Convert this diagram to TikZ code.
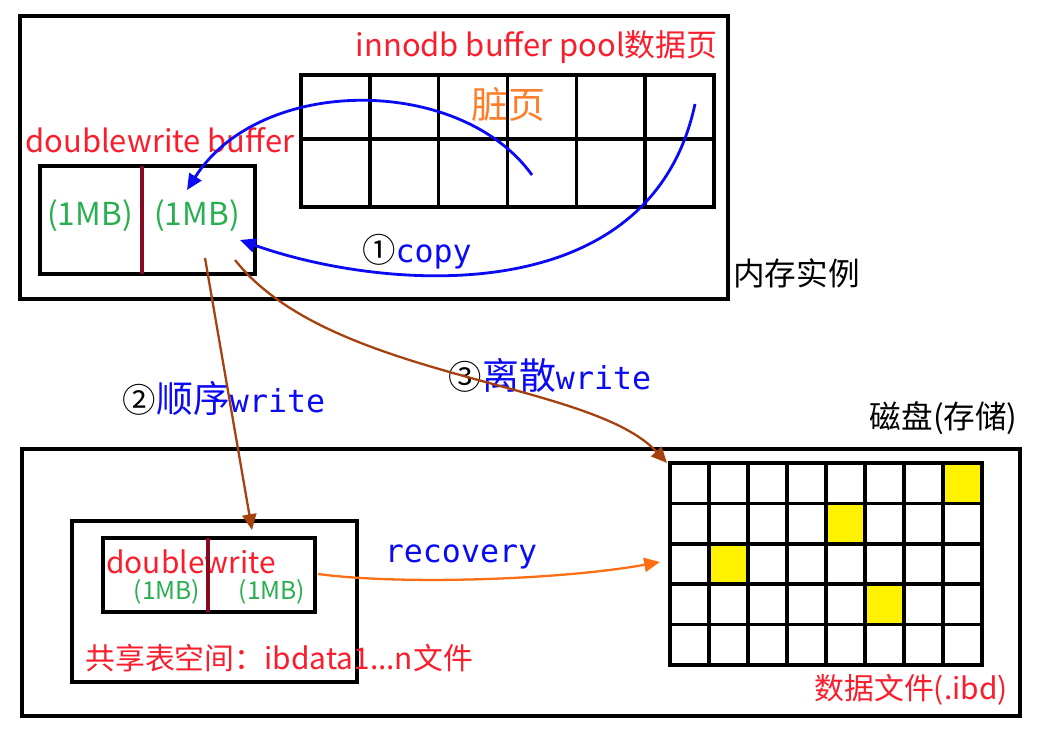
\documentclass[tikz,border=0pt]{standalone}
\usepackage{fontspec}
\setmainfont{Noto Sans CJK SC}
\setmonofont{DejaVu Sans Mono}
\usetikzlibrary{arrows.meta}

\definecolor{txtred}{RGB}{250,30,45}
\definecolor{pgorange}{RGB}{255,125,40}
\definecolor{mbgreen}{RGB}{40,175,80}
\definecolor{sepred}{RGB}{135,10,30}
\definecolor{wbrown}{RGB}{165,65,15}
\definecolor{rcorange}{RGB}{255,110,20}
\definecolor{cpblue}{RGB}{10,10,245}

\newcommand{\fsz}[1]{\fontsize{#1}{#1}\selectfont}
\newcommand{\stepno}[1]{{\color{black}\fsz{19}#1}}

\begin{document}
\begin{tikzpicture}[
x=0.02cm, y=-0.02cm,
box/.style={draw, line width=2.2pt},
gridline/.style={line width=2pt},
sep/.style={draw=sepred, line width=2.2pt},
lbl/.style={inner sep=0pt},
flow/.style={line width=1.6pt, -{Triangle[length=9pt,width=8pt]}}
]
\useasboundingbox (0,0) rectangle (1043,739);

% ---- 内存实例 ----
\draw[box] (20,16) rectangle (728,299);
\node[lbl, anchor=west] (memlbl) at (733,273) {\fsz{18}内存实例};

% ---- buffer pool 数据页 ----
\draw[gridline] (301,75) rectangle (714,207);
\foreach \i in {1,...,5}
    \draw[gridline] ({301+\i*68.83},75) -- ({301+\i*68.83},207);
\draw[gridline] (301,139) -- (714,139);
\node[lbl, anchor=east, text=txtred] (pooltitle) at (718,47) {\fsz{17.6}innodb buffer pool数据页};
\node[lbl, text=pgorange] (dirty) at (508,105) {\fsz{21}脏页};

% ---- doublewrite buffer (内存) ----
\draw[box] (40,166) rectangle (255,274);
\draw[sep] (142,166) -- (142,274);
\node[lbl, anchor=west, text=txtred] (dwtitle) at (25,140) {\fsz{17.6}doublewrite buffer};
\node[lbl, text=mbgreen] (mbA) at (90,216) {\fsz{18}(1MB)};
\node[lbl, text=mbgreen] (mbB) at (197,216) {\fsz{18}(1MB)};

% ---- 磁盘 ----
\draw[box] (22,449) rectangle (1020,716);
\node[lbl, anchor=east] (disklbl) at (1018,418) {\fsz{18}磁盘(存储)};

% ---- 共享表空间 ----
\draw[box] (72,521) rectangle (357,682);
\draw[box] (103,538) rectangle (315,612);
\node[lbl, anchor=west, text=txtred] (dwdisk) at (106,562) {\fsz{17}doublewrite};
\draw[sep] (208,538) -- (208,612);
\node[lbl, text=mbgreen] (mbC) at (167,592) {\fsz{14}(1MB)};
\node[lbl, text=mbgreen] (mbD) at (272,592) {\fsz{14}(1MB)};
\node[lbl, anchor=west, text=txtred] (ibdata) at (85,658) {\fsz{17}共享表空间：ibdata1...n文件};

% ---- 数据文件 ----
\foreach \c/\r in {7/0, 4/1, 1/2, 5/3}
    \fill[yellow] ({670+\c*39},{463+\r*40.4}) rectangle ++(39,40.4);
\foreach \i in {1,...,7}
    \draw[gridline] ({670+\i*39},463) -- ({670+\i*39},665);
\foreach \j in {1,...,4}
    \draw[gridline] (670,{463+\j*40.4}) -- (982,{463+\j*40.4});
\draw[gridline] (670,463) rectangle (982,665);
\node[lbl, anchor=east, text=txtred] (ibdlbl) at (1008,690) {\fsz{17}数据文件(.ibd)};

% ---- 步骤标注 ----
\node[lbl, text=cpblue] (copylbl) at (417,252) {\stepno{①}{\ttfamily\fsz{18}copy}};
\node[lbl, text=cpblue] (seqlbl) at (224,398) {\stepno{②}{\fsz{21}顺序}{\ttfamily\fsz{18}write}};
\node[lbl, text=cpblue] (scatlbl) at (550,375) {\stepno{③}{\fsz{21}离散}{\ttfamily\fsz{18}write}};
\node[lbl, text=cpblue] (reclbl) at (461,557) {\ttfamily\fsz{18}recovery};

% ---- 连线端点 ----
\coordinate (dirtysrc) at (532,175);
\coordinate (cleansrc) at (695,104);
\coordinate (dwin1) at (187,190);
\coordinate (dwin2) at (240,240);
\coordinate (dwout1) at (205,258);
\coordinate (dwout2) at (235,260);
\coordinate (sharedin) at (252,530);
\coordinate (datain) at (667,463);
\coordinate (sharedout) at (318,574);
\coordinate (datarec) at (660,562);

% ---- 箭头 ----
\draw[flow, cpblue] (dirtysrc) .. controls (460,75) and (260,75) .. (dwin1);
\draw[flow, cpblue] (cleansrc) .. controls (650,315) and (380,290) .. (dwin2);
\draw[flow, wbrown, line width=1.3pt] (dwout1) -- (sharedin);
\draw[flow, wbrown, line width=1.3pt] (dwout2) .. controls (330,380) and (590,380) .. (datain);
\draw[flow, rcorange, line width=1.3pt] (sharedout) .. controls (400,585) and (560,580) .. (datarec);
\end{tikzpicture}
\end{document}
